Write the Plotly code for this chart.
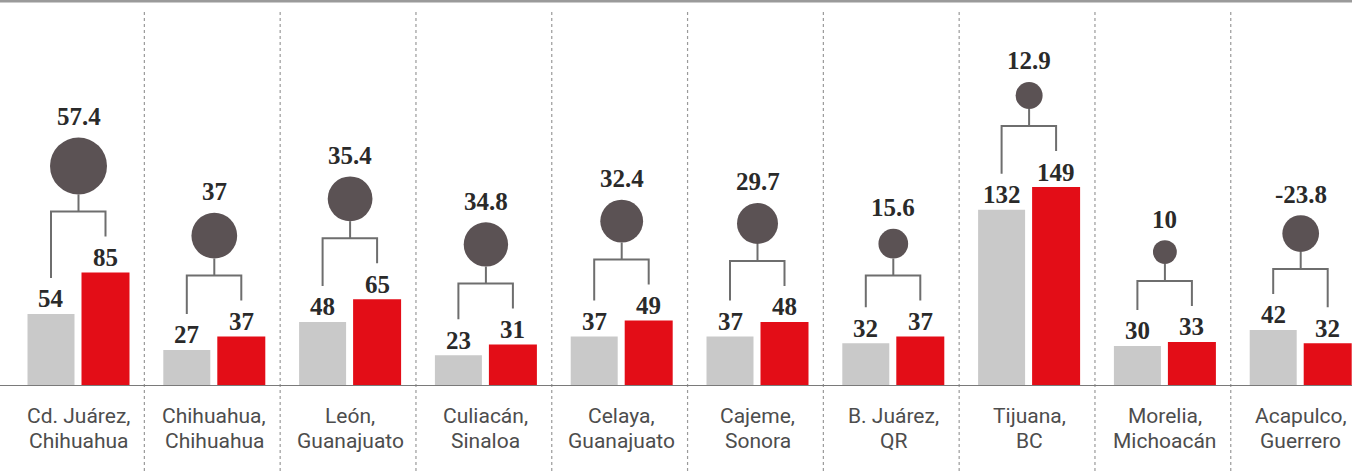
import math
import plotly.graph_objects as go

# ---- data ----
city_line1 = ["Cd. Juárez,", "Chihuahua,", "León,", "Culiacán,", "Celaya,",
              "Cajeme,", "B. Juárez,", "Tijuana,", "Morelia,", "Acapulco,"]
city_line2 = ["Chihuahua", "Chihuahua", "Guanajuato", "Sinaloa", "Guanajuato",
              "Sonora", "QR", "BC", "Michoacán", "Guerrero"]
before = [54, 27, 48, 23, 37, 37, 32, 132, 30, 42]
after = [85, 37, 65, 31, 49, 48, 37, 149, 33, 32]
change = [57.4, 37, 35.4, 34.8, 32.4, 29.7, 15.6, 12.9, 10, -23.8]

# ---- layout geometry (pixels) ----
W, H = 1352, 474
MB = 88
PLOT_H = H - MB
PX_PER_UNIT = 1.3356
YMAX = PLOT_H / PX_PER_UNIT
PXU = 1.0 / PX_PER_UNIT          # data units per pixel
GROUP_PX = 135.8
C0 = 78.5
XMIN = -C0 / GROUP_PX
XMAX = (W - C0) / GROUP_PX
XU = 1.0 / GROUP_PX               # x units per pixel

GRAY = "#c9c9c9"
RED = "#e30d17"
CIRCLE = "#5b5254"
BRACKET = "#6e6e6e"
LABEL_FONT = dict(family="Liberation Serif, DejaVu Serif, serif", size=25, color="#2a2a2a")
CAT_FONT = dict(family="Roboto, Liberation Sans, sans-serif", size=21, color="#4d4d4d")

n = len(before)
xs = list(range(n))

fig = go.Figure()
fig.add_trace(go.Bar(x=xs, y=before, width=47 * XU, offset=-51 * XU,
                     marker=dict(color=GRAY, line=dict(width=0)), hoverinfo="skip"))
fig.add_trace(go.Bar(x=xs, y=after, width=48 * XU, offset=3 * XU,
                     marker=dict(color=RED, line=dict(width=0)), hoverinfo="skip"))

# brackets
bx, by = [], []
cx, cy, csize = [], [], []
annotations = []
D_MAX = 57.0
for i in range(n):
    xg = i - 27.5 * XU
    xr = i + 27.0 * XU
    xc = i
    eg = before[i] + 36 * PXU
    er = after[i] + 36 * PXU
    hy = max(eg, er) + 25 * PXU
    bx += [xg, xg, xr, xr, None, xc, xc, None]
    by += [eg, hy, hy, er, None, hy, hy + 17 * PXU, None]
    d = D_MAX * math.sqrt(abs(change[i]) / abs(change[0]))
    ccy = hy + (17 + d / 2) * PXU
    cx.append(xc)
    cy.append(ccy)
    csize.append(abs(change[i]))
    annotations.append(dict(x=xc, y=ccy + (d / 2 + 21) * PXU, text=f"<b>{change[i]:g}</b>",
                            showarrow=False, xref="x", yref="y", font=LABEL_FONT,
                            xanchor="center", yanchor="middle"))
    annotations.append(dict(x=i - 27.5 * XU, y=before[i] + 15 * PXU, text=f"<b>{before[i]}</b>",
                            showarrow=False, xref="x", yref="y", font=LABEL_FONT,
                            xanchor="center", yanchor="middle"))
    annotations.append(dict(x=i + 27.0 * XU, y=after[i] + 15 * PXU, text=f"<b>{after[i]}</b>",
                            showarrow=False, xref="x", yref="y", font=LABEL_FONT,
                            xanchor="center", yanchor="middle"))
    # category labels (two lines)
    annotations.append(dict(x=xc, y=-(416 - PLOT_H) / PLOT_H, text=city_line1[i],
                            showarrow=False, xref="x", yref="paper", font=CAT_FONT,
                            xanchor="center", yanchor="middle"))
    annotations.append(dict(x=xc, y=-(441 - PLOT_H) / PLOT_H, text=city_line2[i],
                            showarrow=False, xref="x", yref="paper", font=CAT_FONT,
                            xanchor="center", yanchor="middle"))

fig.add_trace(go.Scatter(x=bx, y=by, mode="lines", line=dict(color=BRACKET, width=2),
                         hoverinfo="skip", cliponaxis=False))
fig.add_trace(go.Scatter(x=cx, y=cy, mode="markers",
                         marker=dict(size=csize, sizemode="area",
                                     sizeref=2.0 * abs(change[0]) / (D_MAX ** 2),
                                     color=CIRCLE, opacity=1, line=dict(width=0)),
                         hoverinfo="skip", cliponaxis=False))

shapes = []
# dotted separators
for i in range(n - 1):
    shapes.append(dict(type="line", xref="x", yref="paper", x0=i + 0.485, x1=i + 0.485,
                       y0=(PLOT_H - 12) / PLOT_H, y1=-(H - PLOT_H) / PLOT_H,
                       line=dict(color="#9a9a9a", width=1.2, dash="dot"), layer="below"))
# baseline
shapes.append(dict(type="line", xref="paper", yref="y", x0=0, x1=1, y0=0, y1=0,
                   line=dict(color="#7a7a7a", width=2), layer="above"))
# top rule
shapes.append(dict(type="line", xref="paper", yref="paper", x0=0, x1=1,
                   y0=1 - 1.2 / PLOT_H, y1=1 - 1.2 / PLOT_H,
                   line=dict(color="#9a9a9a", width=2.5)))

fig.update_layout(
    width=W, height=H,
    margin=dict(l=0, r=0, t=0, b=MB, pad=0),
    paper_bgcolor="white", plot_bgcolor="white",
    showlegend=False,
    barmode="overlay",
    xaxis=dict(range=[XMIN, XMAX], visible=False, fixedrange=True),
    yaxis=dict(range=[0, YMAX], visible=False, fixedrange=True),
    shapes=shapes,
    annotations=annotations,
)

fig.write_html("out.html", config={"displayModeBar": False},
               post_script="document.body.style.margin='0';document.body.style.overflow='hidden';")
